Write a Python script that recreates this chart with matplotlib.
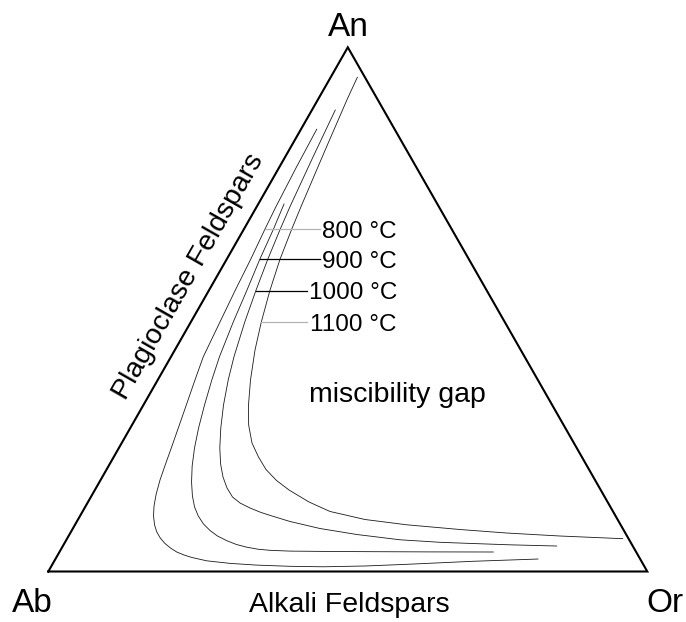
import matplotlib
matplotlib.use("Agg")
import matplotlib.pyplot as plt
import matplotlib.transforms as mtransforms
import numpy as np

plt.rcParams["font.family"] = ["Liberation Sans", "DejaVu Sans"]

# Solvus isotherms in the An-Ab-Or system (mol %): anorthite and orthoclase contents
an_800 = [84.36, 76.97, 69.59, 65.34, 59.56, 53.57, 47.60, 40.98, 36.53, 31.76, 27.76, 23.94,
          20.51, 17.46, 14.78, 12.50, 10.59, 8.87, 7.54, 6.39, 5.34, 4.48, 3.72, 3.15, 2.67,
          2.04, 1.55, 1.22, 0.99, 0.90, 1.05, 1.37, 1.66, 1.95, 2.16, 2.38]
or_800 = [2.63, 2.86, 3.21, 3.51, 4.01, 4.39, 4.86, 5.39, 6.22, 7.16, 7.94, 8.68,
          9.32, 9.92, 10.62, 11.40, 12.27, 13.31, 14.34, 15.50, 16.81, 18.16, 19.58, 21.08, 22.65,
          25.42, 29.56, 34.18, 39.86, 45.46, 52.35, 59.15, 64.56, 69.98, 75.16, 80.56]

an_900 = [70.11, 65.34, 59.56, 53.57, 47.60, 40.98, 36.53, 31.76, 27.37, 23.56, 20.13, 17.07,
          14.40, 12.30, 10.59, 9.06, 7.82, 6.77, 5.86, 5.15, 4.64, 4.25, 4.04, 3.89, 3.82,
          3.78, 3.74, 3.72]
or_900 = [4.30, 4.93, 5.53, 6.34, 7.08, 8.09, 9.03, 10.20, 11.40, 12.63, 13.95, 15.38,
          16.86, 18.27, 19.74, 21.38, 23.09, 24.86, 26.90, 28.84, 30.80, 32.89, 34.99, 38.41, 45.12,
          52.37, 61.85, 72.43]

an_1000 = [88.04, 78.88, 69.59, 65.34, 59.56, 53.57, 47.60, 40.98, 36.53, 31.76, 27.37, 23.56,
           20.51, 18.03, 15.93, 14.21, 13.07, 12.11, 11.26, 10.59, 9.54, 8.20, 7.06, 6.05, 5.57,
           5.38, 5.09, 4.86]
or_1000 = [3.89, 4.67, 5.55, 6.06, 6.86, 7.86, 9.00, 10.51, 11.77, 13.37, 15.11, 16.85,
           18.51, 20.15, 21.87, 23.65, 25.47, 27.62, 29.88, 32.05, 35.58, 41.26, 47.96, 55.69, 62.61,
           67.16, 74.53, 82.44]

an_1100 = [94.28, 89.95, 80.41, 69.59, 65.34, 59.56, 53.57, 47.60, 42.26, 36.53, 31.76, 27.95,
           24.51, 21.84, 19.46, 17.36, 15.55, 13.26, 11.45, 9.92, 8.91, 8.01, 7.34, 6.77, 6.26]
or_1100 = [4.45, 4.87, 6.02, 7.39, 7.98, 8.90, 10.20, 11.76, 13.38, 15.49, 17.54, 19.47,
           21.75, 24.17, 26.61, 29.42, 32.41, 36.89, 41.31, 47.91, 55.38, 64.72, 72.86, 82.04, 92.76]

temperatures = ["800", "900", "1000", "1100"]
# index of the isotherm point each label points at
label_point = [3, 2, 5, 7]
leader_colors = ["#b4b4b4", "#000000", "#000000", "#b4b4b4"]
leader_end_x = [45.4, 45.4, 43.2, 43.2]

vertex_labels = ["Ab", "Or", "An"]


def to_xy(an, orth):
    an = np.asarray(an, dtype=float)
    orth = np.asarray(orth, dtype=float)
    return orth + an / 2.0, an


fig = plt.figure(figsize=(6.86, 6.22), dpi=100)
ax = fig.add_axes([0.07041, 0.08119, 0.87318, 0.84277])
ax.set_xlim(0, 100)
ax.set_ylim(0, 100)
ax.axis("off")

# triangle outline
ax.plot([0, 100, 50, 0], [0, 0, 100, 0], color="black", lw=1.5,
        solid_joinstyle="miter", clip_on=False)

curves = [(an_800, or_800), (an_900, or_900), (an_1000, or_1000), (an_1100, or_1100)]
for an, orth in curves:
    x, y = to_xy(an, orth)
    ax.plot(x, y, color="#1a1a1a", lw=0.6, solid_joinstyle="round")

shift = mtransforms.ScaledTranslation(0, -6.3 / 72, fig.dpi_scale_trans)
for (an, orth), t, idx, col, xe in zip(curves, temperatures, label_point,
                                       leader_colors, leader_end_x):
    x, y = to_xy(an, orth)
    ax.plot([x[idx], xe], [y[idx], y[idx]], color=col, lw=0.9)
    ax.text(58.2, y[idx], f"{t} °C", ha="right", va="baseline", fontsize=17.5,
            transform=ax.transData + shift)

ax.text(-2.64, -7.8, vertex_labels[0], ha="center", va="baseline", fontsize=24, clip_on=False)
ax.text(103.0, -7.8, vertex_labels[1], ha="center", va="baseline", fontsize=24, clip_on=False)
ax.text(50.1, 102.2, vertex_labels[2], ha="center", va="baseline", fontsize=24, clip_on=False)

ax.text(50.3, -7.8, "Alkali Feldspars", ha="center", va="baseline", fontsize=20.5, clip_on=False)
ax.text(58.35, 32.3, "miscibility gap", ha="center", va="baseline", fontsize=20.5)
ax.text(23.4, 56.2, "Plagioclase Feldspars", ha="center", va="center", fontsize=20.5,
        rotation=60.3, rotation_mode="anchor")

fig.savefig("out.png", dpi=100)
